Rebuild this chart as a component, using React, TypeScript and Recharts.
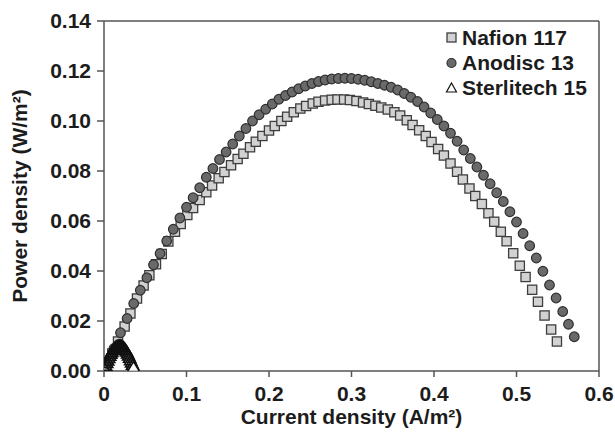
import React from "react";
import {
  ScatterChart,
  Scatter,
  XAxis,
  YAxis,
  ReferenceLine,
  Legend,
} from "recharts";

// Nafion 117 (squares)
const nafionX = [
  0.002, 0.01, 0.017, 0.025, 0.032, 0.04, 0.048, 0.055, 0.063, 0.07, 0.078,
  0.086, 0.093, 0.101, 0.108, 0.116, 0.124, 0.131, 0.139, 0.146, 0.154, 0.162,
  0.169, 0.177, 0.184, 0.192, 0.2, 0.207, 0.215, 0.222, 0.23, 0.238, 0.245,
  0.253, 0.26, 0.268, 0.276, 0.283, 0.291, 0.298, 0.306, 0.314, 0.321, 0.329,
  0.336, 0.344, 0.352, 0.359, 0.367, 0.374, 0.382, 0.39, 0.397, 0.405, 0.412,
  0.42, 0.428, 0.435, 0.443, 0.45, 0.458, 0.466, 0.473, 0.481, 0.488, 0.496,
  0.504, 0.511, 0.519, 0.526, 0.534, 0.542, 0.549,
];
const nafionY = [
  0.0015, 0.007, 0.0118, 0.0178, 0.023, 0.029, 0.0342, 0.0383, 0.0427, 0.0468,
  0.0518, 0.0557, 0.0588, 0.0624, 0.0652, 0.0684, 0.0715, 0.0742, 0.0771,
  0.0796, 0.0823, 0.0848, 0.0869, 0.0895, 0.0917, 0.094, 0.0962, 0.098, 0.1,
  0.1017, 0.1035, 0.105, 0.106, 0.107, 0.1077, 0.1082, 0.1085, 0.1086, 0.1086,
  0.1084, 0.108, 0.1074, 0.1068, 0.1061, 0.1054, 0.1046, 0.1035, 0.1022,
  0.1003, 0.0984, 0.0963, 0.094, 0.0916, 0.0888, 0.0862, 0.083, 0.0797, 0.0766,
  0.073, 0.07, 0.0668, 0.0631, 0.0597, 0.0557, 0.0519, 0.0471, 0.0421, 0.0376,
  0.0325, 0.0277, 0.0222, 0.0166, 0.0118,
];

// Anodisc 13 (circles)
const anodiscX = [
  0.004, 0.012, 0.02, 0.028, 0.036, 0.044, 0.052, 0.06, 0.068, 0.076, 0.084,
  0.092, 0.1, 0.108, 0.116, 0.124, 0.132, 0.14, 0.148, 0.156, 0.164, 0.172,
  0.18, 0.188, 0.196, 0.204, 0.212, 0.22, 0.228, 0.236, 0.244, 0.252, 0.26,
  0.268, 0.276, 0.284, 0.292, 0.3, 0.308, 0.316, 0.324, 0.332, 0.34, 0.348,
  0.356, 0.364, 0.372, 0.38, 0.388, 0.396, 0.404, 0.412, 0.42, 0.428, 0.436,
  0.444, 0.452, 0.46, 0.468, 0.476, 0.484, 0.492, 0.5, 0.508, 0.516, 0.524,
  0.532, 0.54, 0.548, 0.556, 0.563, 0.57,
];
const anodiscY = [
  0.003, 0.009, 0.0153, 0.021, 0.027, 0.0323, 0.0373, 0.0425, 0.047, 0.052,
  0.0567, 0.0612, 0.0655, 0.0693, 0.0733, 0.0775, 0.081, 0.0846, 0.0876,
  0.0908, 0.094, 0.097, 0.1, 0.1025, 0.1047, 0.1068, 0.1087, 0.1102, 0.1116,
  0.1129, 0.114, 0.115, 0.1158, 0.1164, 0.1168, 0.117, 0.1171, 0.117, 0.1167,
  0.1163, 0.1157, 0.115, 0.1143, 0.1135, 0.1124, 0.111, 0.1095, 0.1078,
  0.1056, 0.1032, 0.1006, 0.098, 0.0951, 0.0919, 0.0884, 0.085, 0.0816, 0.0783,
  0.0749, 0.0713, 0.0678, 0.0637, 0.0596, 0.055, 0.0501, 0.0452, 0.0399,
  0.0344, 0.0292, 0.0238, 0.0187, 0.0137,
];

// Sterlitech 15 (triangles)
const sterliX = [
  0.001, 0.0022, 0.0034, 0.0046, 0.0058, 0.007, 0.0082, 0.0094, 0.0106, 0.0118,
  0.013, 0.0142, 0.0154, 0.0166, 0.0178, 0.019, 0.0202, 0.0214, 0.0226, 0.0238,
  0.025, 0.0262, 0.0274, 0.0286, 0.0298, 0.031, 0.0322, 0.0334, 0.0346, 0.0358,
];
const sterliY = [
  0.001, 0.0021, 0.0032, 0.0042, 0.0052, 0.0061, 0.0069, 0.0076, 0.0083,
  0.0088, 0.0093, 0.0097, 0.0099, 0.0101, 0.0102, 0.0102, 0.0102, 0.0101,
  0.0098, 0.0095, 0.009, 0.0085, 0.0078, 0.007, 0.0062, 0.0053, 0.0043, 0.0034,
  0.0025, 0.0016,
];

const xTicks = [0, 0.1, 0.2, 0.3, 0.4, 0.5, 0.6];
const yTicks = [0, 0.02, 0.04, 0.06, 0.08, 0.1, 0.12, 0.14];

const toPoints = (xs: number[], ys: number[]) =>
  xs.map((x, i) => ({ x, y: ys[i] }));

const nafion = toPoints(nafionX, nafionY);
const anodisc = toPoints(anodiscX, anodiscY);
const sterli = toPoints(sterliX, sterliY);

const FONT = "'Liberation Sans', Arial, sans-serif";
const AXIS = "#555";
const TEXT = "#1c1c1c";
const FS = 21;

const Square = ({ cx, cy }: any) => (
  <rect
    x={cx - 4.6}
    y={cy - 4.6}
    width={9.2}
    height={9.2}
    fill="#d2d2d2"
    stroke="#3e3e3e"
    strokeWidth={1.3}
  />
);
const Dot = ({ cx, cy }: any) => (
  <circle cx={cx} cy={cy} r={4.8} fill="#6a6a6a" stroke="#2e2e2e" strokeWidth={1.2} />
);
// the Sterlitech points overlap so densely that the cluster reads as black
const Tri = ({ cx, cy, index, points }: any) => (
  <path
    d={`M${cx},${cy - 5.5} L${cx + 6},${cy + 4.5} L${cx - 6},${cy + 4.5} Z`}
    fill={index === sterliX.length - 1 ? "#fff" : "none"}
    stroke="#111"
    strokeWidth={1.6}
  />
);

const legendItems = [
  { name: "Nafion 117", kind: "square" },
  { name: "Anodisc 13", kind: "circle" },
  { name: "Sterlitech 15", kind: "triangle" },
];

const renderLegend = () => (
  <div style={{ fontFamily: FONT, fontWeight: "bold", fontSize: FS, color: TEXT }}>
    {legendItems.map((it) => (
      <div key={it.name} style={{ display: "flex", alignItems: "center", height: 24.7 }}>
        <svg width={16} height={16} style={{ marginRight: 2 }}>
          {it.kind === "square" && (
            <rect x={3} y={3} width={9} height={9} fill="#d2d2d2" stroke="#3e3e3e" strokeWidth={1.3} />
          )}
          {it.kind === "circle" && (
            <circle cx={7.5} cy={8} r={4.5} fill="#6a6a6a" stroke="#2e2e2e" strokeWidth={1.2} />
          )}
          {it.kind === "triangle" && (
            <path d="M7.5,3 L12.5,12 L2.5,12 Z" fill="#fff" stroke="#111" strokeWidth={1.2} />
          )}
        </svg>
        <span style={{ lineHeight: "24px" }}>{it.name}</span>
      </div>
    ))}
  </div>
);

const tickStyle = { fill: TEXT, fontSize: FS, fontWeight: "bold", fontFamily: FONT };
const titleStyle = { fill: TEXT, fontSize: FS, fontWeight: "bold", fontFamily: FONT };

export default function App() {
  return (
    <div style={{ position: "absolute", left: 0, top: 0, width: 615, height: 437, background: "#fff" }}>
      <ScatterChart
        width={615}
        height={437}
        margin={{ top: 21, right: 16, bottom: 0, left: 0 }}
      >
        <XAxis
          type="number"
          dataKey="x"
          domain={[0, 0.6]}
          ticks={xTicks}
          tickFormatter={(v: number) => (v === 0 ? "0" : v.toFixed(1))}
          height={66}
          stroke={AXIS}
          strokeWidth={1.5}
          tickSize={6}
          tickMargin={9}
          tick={tickStyle}
          allowDataOverflow
          label={{
            value: "Current density (A/m²)",
            position: "insideBottom",
            offset: 13,
            style: titleStyle,
          }}
        />
        <YAxis
          type="number"
          dataKey="y"
          domain={[0, 0.14]}
          ticks={yTicks}
          tickFormatter={(v: number) => v.toFixed(2)}
          width={104}
          stroke={AXIS}
          strokeWidth={1.5}
          tickSize={7}
          tickMargin={6}
          tick={tickStyle}
          allowDataOverflow
          label={{
            value: "Power density (W/m²)",
            angle: -90,
            position: "insideLeft",
            offset: 20,
            style: { ...titleStyle, textAnchor: "middle" },
          }}
        />
        <ReferenceLine y={0.14} stroke={AXIS} strokeWidth={1.5} />
        <ReferenceLine x={0.6} stroke={AXIS} strokeWidth={1.5} />
        <Legend
          layout="vertical"
          align="center"
          verticalAlign="middle"
          content={renderLegend}
          wrapperStyle={{ left: 444, top: 26, width: 170 }}
        />
        <Scatter name="Nafion 117" data={nafion} shape={<Square />} isAnimationActive={false} />
        <Scatter name="Anodisc 13" data={anodisc} shape={<Dot />} isAnimationActive={false} />
        <Scatter name="Sterlitech 15" data={sterli} shape={<Tri />} isAnimationActive={false} />
      </ScatterChart>
    </div>
  );
}
